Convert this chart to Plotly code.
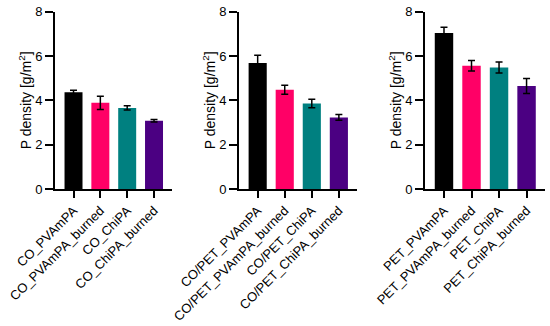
import plotly.graph_objects as go

cats1 = ["CO_PVAmPA", "CO_PVAmPA_burned", "CO_ChiPA", "CO_ChiPA_burned"]
cats2 = ["CO/PET_PVAmPA", "CO/PET_PVAmPA_burned", "CO/PET_ChiPA", "CO/PET_ChiPA_burned"]
cats3 = ["PET_PVAmPA", "PET_PVAmPA_burned", "PET_ChiPA", "PET_ChiPA_burned"]
vals1 = [4.36, 3.89, 3.66, 3.08]
errs1 = [0.10, 0.30, 0.10, 0.06]
vals2 = [5.68, 4.48, 3.86, 3.23]
errs2 = [0.35, 0.20, 0.19, 0.13]
vals3 = [7.04, 5.56, 5.48, 4.65]
errs3 = [0.26, 0.24, 0.25, 0.34]
colors = ["#000000", "#FF0066", "#008080", "#4B0082"]
yticks = [0, 2, 4, 6, 8]

FONT = "Arial, Liberation Sans, sans-serif"
fig = go.Figure()
panels = [(cats1, vals1, errs1), (cats2, vals2, errs2), (cats3, vals3, errs3)]
xdoms = [[55/550, 172/550], [239/550, 357/550], [425/550, 545/550]]
ydom = [1 - 189/326, 1 - 11.7/326]
for i, (c, v, e) in enumerate(panels):
    sfx = "" if i == 0 else str(i + 1)
    fig.add_trace(go.Bar(
        x=c, y=v, marker=dict(color=colors, line=dict(width=0)),
        width=0.67,
        error_y=dict(type="data", array=e, visible=True, color="black",
                     thickness=1.5, width=3.5),
        xaxis="x" + sfx, yaxis="y" + sfx, showlegend=False))
    fig.layout["xaxis" + sfx] = dict(
        domain=xdoms[i], anchor="y" + sfx, range=[-0.69, 3.67],
        showline=True, linecolor="black", linewidth=2, ticks="outside",
        ticklen=7, tickwidth=1.5, tickcolor="black", tickangle=-45,
        tickfont=dict(family=FONT, size=13, color="black"),
        showgrid=False, zeroline=False, automargin=False)
    fig.layout["yaxis" + sfx] = dict(
        domain=ydom, anchor="x" + sfx, range=[0, 8], tickvals=yticks,
        showline=True, linecolor="black", linewidth=2, ticks="outside",
        ticklen=8, tickwidth=1.5, tickcolor="black",
        tickfont=dict(family=FONT, size=13, color="black"),
        title=dict(text="P density [g/m<sup>2</sup>]",
                   font=dict(family=FONT, size=14, color="black"), standoff=0),
        showgrid=False, zeroline=False, automargin=False)

fig.update_layout(width=550, height=326, margin=dict(l=0, r=0, t=0, b=0),
                  plot_bgcolor="white", paper_bgcolor="white", bargap=0.3)
fig.write_html("out.html", config={"displayModeBar": False},
               post_script="document.body.style.margin='0';document.body.style.overflow='hidden';")
